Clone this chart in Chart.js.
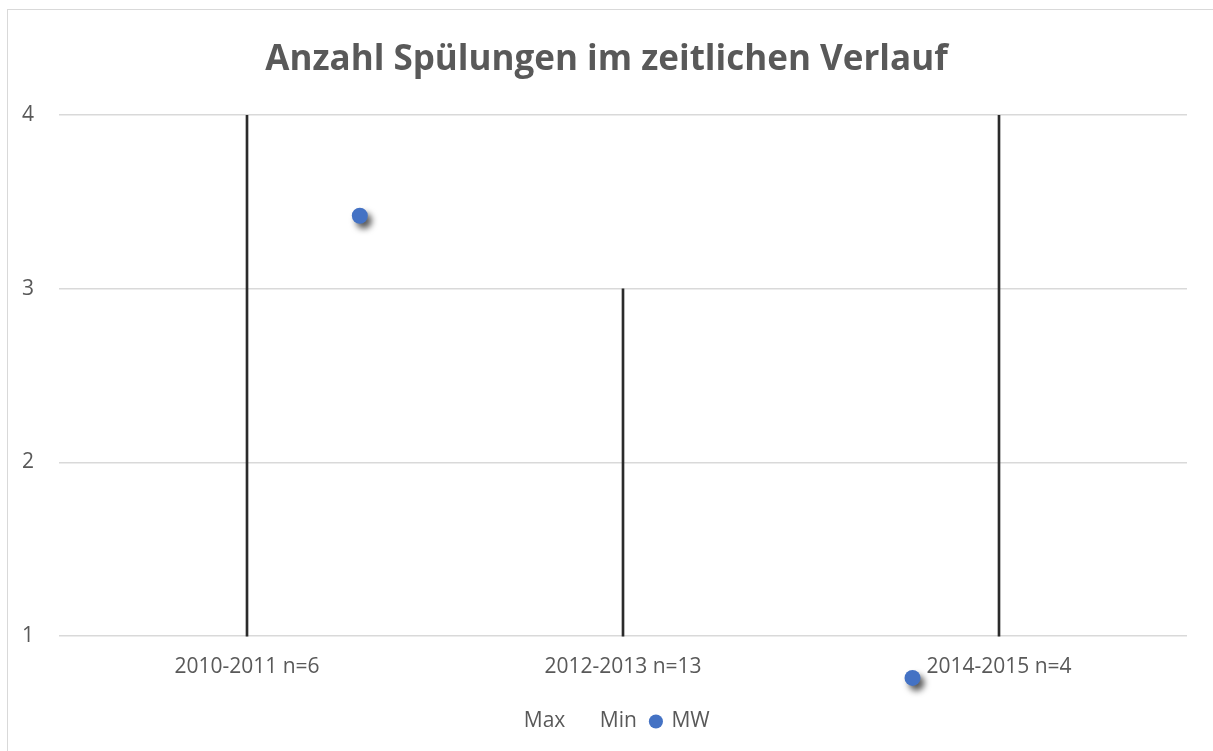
<!DOCTYPE html>
<html>
<head>
<meta charset="utf-8">
<script src="https://cdn.jsdelivr.net/npm/chart.js@4/dist/chart.umd.min.js"></script>
<style>
  html, body { margin: 0; padding: 0; background: #fff; overflow: hidden; }
  #frame { position: absolute; left: 7px; top: 9px; width: 1300px; height: 900px; border: 1px solid #d9d9d9; box-sizing: border-box; }
  #wrap { position: absolute; left: 0; top: 0; width: 1213px; height: 751px; }
</style>
</head>
<body>
<div id="frame"></div>
<div id="wrap"><canvas id="chart"></canvas></div>
<script>
// Data
const categories = ['2010-2011 n=6', '2012-2013 n=13', '2014-2015 n=4'];
const maxValues = [4, 3, 4];
const minValues = [1, 1, 1];
const mwValues = [3.42, null, 0.76];
// MW markers sit off the category centres in the original (position in category units)
const mwPositions = [0.3, 1, 1.77];
const yTicks = [1, 2, 3, 4];

const textColor = '#595959';
const fontFamily = "'Open Sans', sans-serif";

// Drop shadow for the MW markers
const shadowPlugin = {
  id: 'mwShadow',
  beforeDatasetDraw(chart, args) {
    if (args.meta.label !== 'MW') return;
    const ctx = chart.ctx;
    ctx.save();
    ctx.shadowColor = 'rgba(0, 0, 0, 0.65)';
    ctx.shadowBlur = 6;
    ctx.shadowOffsetX = 4;
    ctx.shadowOffsetY = 5;
  },
  afterDatasetDraw(chart, args) {
    if (args.meta.label !== 'MW') return;
    chart.ctx.restore();
  }
};

const ctx = document.getElementById('chart').getContext('2d');
new Chart(ctx, {
  data: {
    datasets: [
      {
        type: 'line',
        label: 'Max',
        data: maxValues.map((v, i) => ({ x: i, y: v })),
        showLine: false,
        pointRadius: 0,
        pointStyle: 'circle',
        backgroundColor: 'rgba(0,0,0,0)',
        borderColor: 'rgba(0,0,0,0)'
      },
      {
        type: 'line',
        label: 'Min',
        data: minValues.map((v, i) => ({ x: i, y: v })),
        showLine: false,
        pointRadius: 0,
        pointStyle: 'circle',
        backgroundColor: 'rgba(0,0,0,0)',
        borderColor: 'rgba(0,0,0,0)'
      },
      {
        type: 'scatter',
        label: 'MW',
        data: mwValues.map((v, i) => ({ x: mwPositions[i], y: v })),
        pointStyle: 'circle',
        pointRadius: 8,
        pointHoverRadius: 8,
        backgroundColor: '#4472C4',
        borderColor: '#4472C4',
        borderWidth: 0,
        clip: false
      },
      {
        // high-low lines between Min and Max
        type: 'bar',
        label: 'range',
        data: maxValues.map((v, i) => ({ x: i, y: [minValues[i], v] })),
        backgroundColor: '#2b2b2b',
        borderWidth: 0,
        barThickness: 2,
        order: 5
      }
    ]
  },
  options: {
    responsive: true,
    maintainAspectRatio: false,
    animation: false,
    layout: { padding: { left: 0, right: 0, top: 0, bottom: 9 } },
    plugins: {
      title: {
        display: true,
        text: 'Anzahl Spülungen im zeitlichen Verlauf',
        color: textColor,
        font: { family: fontFamily, size: 35, weight: 'bold' },
        padding: { top: 39, bottom: 34 }
      },
      legend: {
        position: 'bottom',
        labels: {
          usePointStyle: true,
          boxWidth: 10,
          boxHeight: 10,
          padding: 14,
          color: textColor,
          font: { family: fontFamily, size: 21 },
          filter: item => item.text !== 'range'
        }
      },
      tooltip: { enabled: false }
    },
    scales: {
      x: {
        type: 'linear',
        min: -0.5,
        max: 2.5,
        offset: false,
        position: { y: 1 },
        afterBuildTicks: scale => {
          scale.ticks = categories.map((c, i) => ({ value: i }));
        },
        grid: { display: false, drawTicks: false },
        border: { display: false },
        ticks: {
          color: textColor,
          font: { family: fontFamily, size: 21 },
          padding: 18,
          maxRotation: 0,
          callback: value => categories[value]
        }
      },
      y: {
        // room below 1 so the low MW marker stays inside the plot
        min: 0.65,
        max: 4,
        afterFit: scale => { scale.width = 59; },
        afterBuildTicks: scale => {
          scale.ticks = yTicks.map(v => ({ value: v }));
        },
        grid: { color: '#d9d9d9', lineWidth: 1.5, drawTicks: false },
        border: { display: false },
        ticks: {
          color: textColor,
          font: { family: fontFamily, size: 21 },
          padding: 25
        }
      },
      yRight: {
        position: 'right',
        display: true,
        afterFit: scale => { scale.width = 26; },
        grid: { display: false, drawTicks: false },
        border: { display: false },
        ticks: { display: false }
      }
    }
  },
  plugins: [shadowPlugin]
});
</script>
</body>
</html>
